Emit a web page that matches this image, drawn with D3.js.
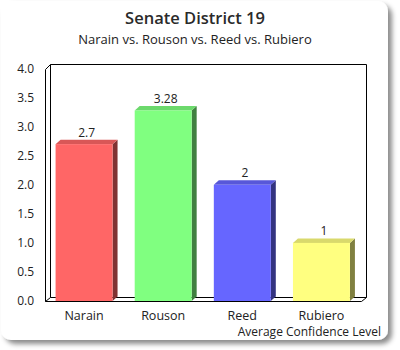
<!DOCTYPE html>
<html>
<head>
<meta charset="utf-8">
<script src="https://cdn.jsdelivr.net/npm/d3@7/dist/d3.min.js"></script>
<style>
  body { margin: 0; background: #fff; }
  text { font-family: "Open Sans", sans-serif; }
</style>
</head>
<body>
<div id="chart"></div>
<script>
"use strict";

const candidates = ["Narain", "Rouson", "Reed", "Rubiero"];
const confidence = [2.7, 3.28, 2, 1];
const valueLabels = ["2.7", "3.28", "2", "1"];
const yTicks = [0, 0.5, 1, 1.5, 2, 2.5, 3, 3.5, 4];

const faceColors = ["#ff6666", "#80ff80", "#6666ff", "#ffff80"];
const topColors = ["#d95757", "#6cd96c", "#5757d9", "#d9d96c"];
const sideColors = ["#803333", "#408040", "#333380", "#808040"];

const w = 400;
const h = 350;
const dx = 5;
const dy = 4.5;
const left = 44.5;
const right = 361;
const bottom = 301;

const svg = d3
  .select("#chart")
  .append("svg")
  .attr("width", w)
  .attr("height", h);

const defs = svg.append("defs");
const shadow = defs
  .append("filter")
  .attr("id", "shadow")
  .attr("x", "-10%")
  .attr("y", "-10%")
  .attr("width", "130%")
  .attr("height", "130%");
shadow
  .append("feDropShadow")
  .attr("dx", 4)
  .attr("dy", 4)
  .attr("stdDeviation", 2.5)
  .attr("flood-color", "#000")
  .attr("flood-opacity", 0.45);

// card
svg
  .append("rect")
  .attr("x", 1)
  .attr("y", 1)
  .attr("width", 387)
  .attr("height", 339)
  .attr("rx", 10)
  .attr("fill", "#fff")
  .attr("filter", "url(#shadow)");

// titles
svg
  .append("text")
  .attr("x", 195)
  .attr("y", 24)
  .attr("text-anchor", "middle")
  .attr("font-size", 16.5)
  .attr("font-weight", 600)
  .attr("fill", "#2a2a2a")
  .text("Senate District 19");
svg
  .append("text")
  .attr("x", 195)
  .attr("y", 44)
  .attr("text-anchor", "middle")
  .attr("font-size", 13)
  .attr("fill", "#222")
  .text("Narain vs. Rouson vs. Reed vs. Rubiero");

const x = d3
  .scaleBand()
  .domain(candidates)
  .range([left, right])
  .paddingInner(0.28)
  .paddingOuter(0.14);

const y = d3.scaleLinear().domain([0, 4]).range([bottom, 68.6]);

// frame
const frame = svg
  .append("g")
  .attr("fill", "none")
  .attr("stroke", "#000")
  .attr("stroke-width", 1);
const top4 = y(4);
const lines = [
  [left, top4, left, bottom],
  [left, bottom, right, bottom],
  [left + dx, top4 - dy, left + dx, bottom - dy],
  [left + dx, top4 - dy, right + dx, top4 - dy],
  [right + dx, top4 - dy, right + dx, bottom - dy],
  [left + dx, bottom - dy, right + dx, bottom - dy],
  [left, top4, left + dx, top4 - dy],
  [left, bottom, left + dx, bottom - dy],
  [right, bottom, right + dx, bottom - dy],
];
frame
  .selectAll("line")
  .data(lines)
  .enter()
  .append("line")
  .attr("x1", (d) => Math.round(d[0]) + 0.5)
  .attr("y1", (d) => Math.round(d[1]) + 0.5)
  .attr("x2", (d) => Math.round(d[2]) + 0.5)
  .attr("y2", (d) => Math.round(d[3]) + 0.5);

// y axis labels
svg
  .append("g")
  .selectAll("text")
  .data(yTicks)
  .enter()
  .append("text")
  .attr("x", 34)
  .attr("y", (d) => y(d))
  .attr("dy", "0.35em")
  .attr("text-anchor", "end")
  .attr("font-size", 12)
  .attr("fill", "#222")
  .text((d) => d.toFixed(1));

// bars
const bars = svg
  .append("g")
  .selectAll("g")
  .data(candidates)
  .enter()
  .append("g");

const bw = x.bandwidth();

bars
  .append("path")
  .attr("fill", (d, i) => sideColors[i])
  .attr("d", (d, i) => {
    const x1 = x(d) + bw;
    const yt = y(confidence[i]);
    return `M${x1},${yt}L${x1 + dx},${yt - dy}L${x1 + dx},${bottom - dy}L${x1},${bottom}Z`;
  });

bars
  .append("path")
  .attr("fill", (d, i) => topColors[i])
  .attr("d", (d, i) => {
    const x0 = x(d);
    const yt = y(confidence[i]);
    return `M${x0},${yt}L${x0 + dx},${yt - dy}L${x0 + bw + dx},${yt - dy}L${x0 + bw},${yt}Z`;
  });

bars
  .append("rect")
  .attr("x", (d) => x(d))
  .attr("y", (d, i) => y(confidence[i]))
  .attr("width", bw)
  .attr("height", (d, i) => bottom - y(confidence[i]))
  .attr("fill", (d, i) => faceColors[i]);

bars
  .append("text")
  .attr("x", (d) => x(d) + bw / 2 + dx / 2)
  .attr("y", (d, i) => y(confidence[i]) - dy - 3)
  .attr("text-anchor", "middle")
  .attr("font-size", 12)
  .attr("fill", "#222")
  .text((d, i) => valueLabels[i]);

// x labels
svg
  .append("g")
  .selectAll("text")
  .data(candidates)
  .enter()
  .append("text")
  .attr("x", (d) => x(d) + bw / 2)
  .attr("y", 320)
  .attr("text-anchor", "middle")
  .attr("font-size", 12.5)
  .attr("fill", "#222")
  .text((d) => d);

svg
  .append("text")
  .attr("x", 381)
  .attr("y", 336)
  .attr("text-anchor", "end")
  .attr("font-size", 12)
  .attr("fill", "#222")
  .text("Average Confidence Level");
</script>
</body>
</html>
